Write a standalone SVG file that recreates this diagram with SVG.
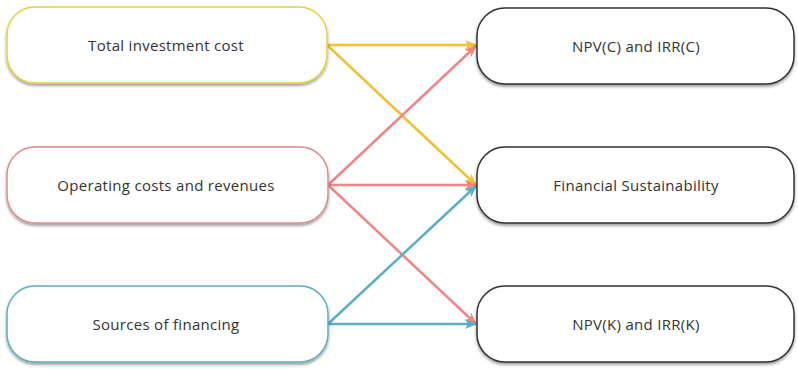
<svg xmlns="http://www.w3.org/2000/svg" width="798" height="369" viewBox="0 0 798 369">
<defs>
<filter id="sh" x="-10%" y="-20%" width="120%" height="150%">
<feDropShadow dx="0" dy="2" stdDeviation="1.5" flood-color="#000" flood-opacity="0.4"/>
</filter>
<marker id="ay" viewBox="0 0 12 10" refX="11" refY="5" markerWidth="12" markerHeight="10" orient="auto" markerUnits="userSpaceOnUse"><path d="M0,0 L12,5 L0,10 L3,5 z" fill="#F0C030"/></marker>
<marker id="ar" viewBox="0 0 12 10" refX="11" refY="5" markerWidth="12" markerHeight="10" orient="auto" markerUnits="userSpaceOnUse"><path d="M0,0 L12,5 L0,10 L3,5 z" fill="#EF8585"/></marker>
<marker id="ab" viewBox="0 0 12 10" refX="11" refY="5" markerWidth="12" markerHeight="10" orient="auto" markerUnits="userSpaceOnUse"><path d="M0,0 L12,5 L0,10 L3,5 z" fill="#5AAFC5"/></marker>
</defs>
<style>
.box{fill:#fff;stroke-width:1.5;filter:url(#sh)}
.lbl{font-family:"Open Sans","Liberation Sans",sans-serif;font-size:15px;letter-spacing:0.3px;fill:#333;text-anchor:middle;dominant-baseline:central}
.c{fill:none;stroke-width:2.5}
</style>
<rect width="798" height="369" fill="#fff"/>
<g id="connectors">
<line class="c" x1="327" y1="45" x2="476" y2="45" stroke="#F0C030" marker-end="url(#ay)"/>
<line class="c" x1="327" y1="45" x2="476" y2="185" stroke="#F0C030" marker-end="url(#ay)"/>
<line class="c" x1="328" y1="185" x2="476" y2="46" stroke="#EF8585" marker-end="url(#ar)"/>
<line class="c" x1="328" y1="185" x2="476" y2="185" stroke="#EF8585" marker-end="url(#ar)"/>
<line class="c" x1="328" y1="185" x2="476" y2="324" stroke="#EF8585" marker-end="url(#ar)"/>
<line class="c" x1="328" y1="324" x2="476" y2="186" stroke="#5AAFC5" marker-end="url(#ab)"/>
<line class="c" x1="328" y1="324" x2="476" y2="324" stroke="#5AAFC5" marker-end="url(#ab)"/>
</g>
<g id="n1"><rect class="box" x="7" y="7" width="320" height="76" rx="28" stroke="#E8D040"/><text class="lbl" x="166" y="45">Total investment cost</text></g>
<g id="n2"><rect class="box" x="7" y="147" width="321" height="76" rx="28" stroke="#E08A8A"/><text class="lbl" x="166" y="185">Operating costs and revenues</text></g>
<g id="n3"><rect class="box" x="7" y="286" width="321" height="76" rx="28" stroke="#5AAFC5"/><text class="lbl" x="166" y="324">Sources of financing</text></g>
<g id="n4"><rect class="box" x="477" y="8" width="317" height="76" rx="28" stroke="#333"/><text class="lbl" x="636" y="46">NPV(C) and IRR(C)</text></g>
<g id="n5"><rect class="box" x="477" y="147" width="317" height="76" rx="28" stroke="#333"/><text class="lbl" x="636" y="185">Financial Sustainability</text></g>
<g id="n6"><rect class="box" x="477" y="286" width="317" height="76" rx="28" stroke="#333"/><text class="lbl" x="636" y="324">NPV(K) and IRR(K)</text></g>
</svg>
